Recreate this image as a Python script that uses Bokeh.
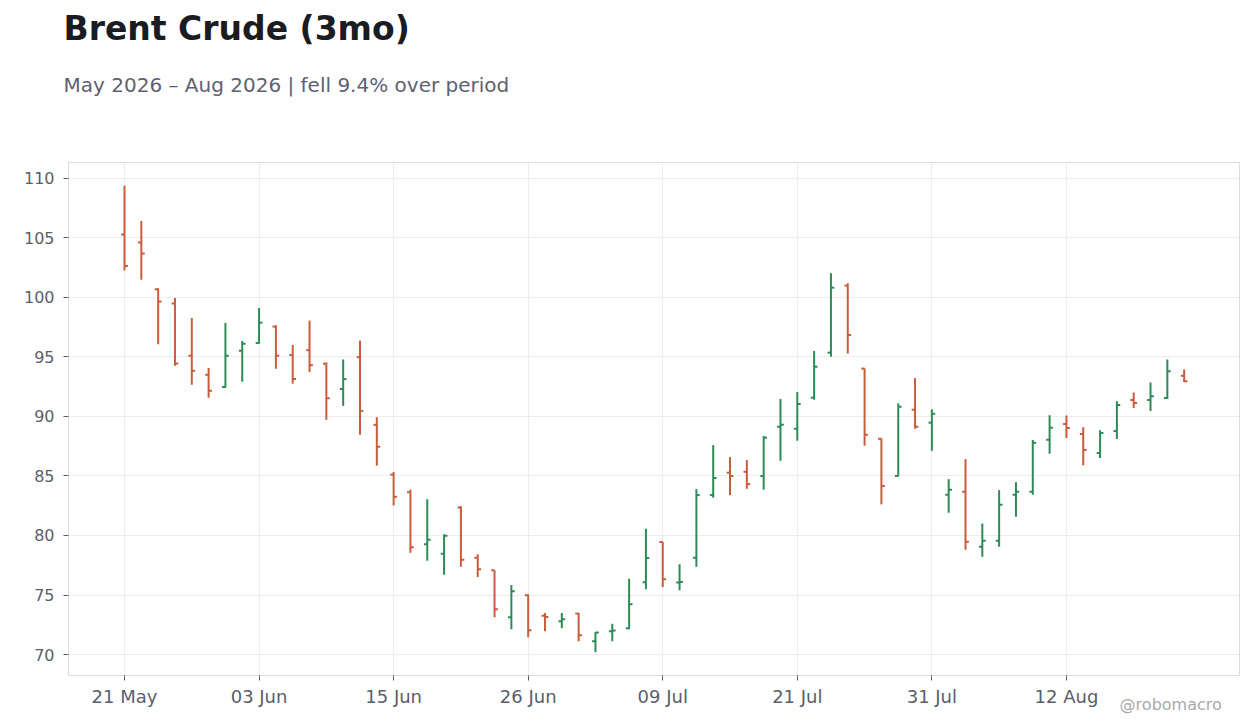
import numpy as np
from bokeh.plotting import figure
from bokeh.models import ColumnDataSource, Range1d, FixedTicker, Title, LinearAxis
from bokeh.embed import file_html
from bokeh.resources import INLINE

# daily OHLC, one bar per trading day (index based x axis)
opens = [105.27, 104.59, 100.67, 99.47, 95.10, 93.50, 92.46, 95.52, 96.16, 97.54,
         95.16, 95.56, 94.42, 92.30, 94.97, 89.29, 85.11, 83.63, 79.27, 78.46,
         82.35, 78.12, 77.09, 73.14, 74.99, 73.25, 72.80, 73.45, 71.12, 71.96,
         72.21, 76.08, 79.45, 76.05, 78.12, 83.39, 85.27, 85.35, 84.99, 89.13,
         88.96, 91.57, 95.35, 100.98, 94.01, 88.12, 84.99, 90.56, 89.47, 83.42,
         83.67, 79.05, 79.55, 83.42, 83.67, 88.03, 89.36, 88.52, 86.93, 88.77,
         91.37, 91.37, 91.54, 93.41]
highs = [109.36, 106.41, 100.76, 99.94, 98.26, 94.06, 97.84, 96.33, 99.10, 97.65,
         96.00, 98.04, 94.53, 94.78, 96.36, 89.93, 85.33, 83.85, 83.04, 80.11,
         82.46, 78.42, 77.09, 75.85, 75.07, 73.50, 73.50, 73.50, 71.90, 72.58,
         76.36, 80.56, 79.46, 77.59, 83.89, 87.59, 86.58, 86.33, 88.35, 91.46,
         92.04, 95.49, 102.02, 101.18, 94.03, 88.15, 91.09, 93.22, 90.59, 84.73,
         86.41, 81.01, 83.81, 84.48, 88.01, 90.10, 90.08, 89.08, 88.83, 91.26,
         92.01, 92.85, 94.78, 93.94]
lows = [102.24, 101.48, 96.05, 94.26, 92.66, 91.57, 92.40, 92.91, 96.10, 94.00,
        92.75, 93.72, 89.71, 90.88, 88.45, 85.86, 82.52, 78.55, 77.88, 76.70,
        77.37, 76.52, 73.14, 72.13, 71.46, 71.96, 72.21, 71.12, 70.20, 71.12,
        72.13, 75.49, 75.68, 75.41, 77.37, 83.17, 83.39, 83.92, 83.84, 86.27,
        87.96, 91.40, 95.01, 95.27, 87.54, 82.61, 84.96, 88.96, 87.11, 81.90,
        78.80, 78.21, 79.05, 81.57, 83.42, 86.86, 88.18, 85.89, 86.51, 88.10,
        90.70, 90.45, 91.45, 92.88]
closes = [102.63, 103.67, 99.64, 94.43, 93.84, 92.16, 95.10, 96.10, 97.87, 95.10,
          93.14, 94.30, 91.52, 93.13, 90.46, 87.45, 83.25, 79.02, 79.64, 79.97,
          77.96, 77.16, 73.81, 75.32, 72.04, 73.15, 72.97, 71.62, 71.85, 72.02,
          74.23, 78.10, 76.33, 76.10, 83.39, 84.82, 84.99, 84.31, 88.21, 89.30,
          91.04, 94.17, 100.81, 96.83, 88.46, 84.15, 90.81, 89.13, 90.22, 83.84,
          79.47, 79.55, 82.58, 83.67, 87.79, 89.04, 89.02, 87.18, 88.60, 90.95,
          91.12, 91.70, 93.80, 92.96]

tick_idx = [0, 8, 16, 24, 32, 40, 48, 56]
tick_labels = ["21 May", "03 Jun", "15 Jun", "26 Jun", "09 Jul", "21 Jul", "31 Jul", "12 Aug"]

UP = "#2e8b57"
DOWN = "#c95c3d"
FONT = "DejaVu Sans"

x = np.arange(len(opens))
colors = [UP if c >= o else DOWN for o, c in zip(opens, closes)]
src = ColumnDataSource(data=dict(
    x=x, xl=x - 0.2, xr=x + 0.2,
    open=opens, high=highs, low=lows, close=closes, color=colors,
))

span = max(highs) - min(lows)
p = figure(
    width=1252, height=720,
    x_range=Range1d(-3.33, 66.29),
    y_range=Range1d(min(lows) - 0.05 * span, max(highs) + 0.05 * span),
    output_backend="svg", toolbar_location=None,
    min_border_left=68, min_border_right=13, min_border_bottom=45, min_border_top=162,
)

sub = Title(text="May 2026 \u2013 Aug 2026 | fell 9.4% over period", align="left",
            text_font=FONT, text_font_size="20px", text_font_style="normal",
            text_color="#5f6170", standoff=132, offset=-5)
p.add_layout(sub, "above")
main = Title(text="Brent Crude (3mo)", align="left",
             text_font=FONT, text_font_size="33px", text_font_style="bold",
             text_color="#1b1b22", standoff=-86, offset=-5)
p.add_layout(main, "above")

p.segment(x0="x", y0="low", x1="x", y1="high", source=src, line_color="color", line_width=2)
p.segment(x0="xl", y0="open", x1="x", y1="open", source=src, line_color="color", line_width=2)
p.segment(x0="x", y0="close", x1="xr", y1="close", source=src, line_color="color", line_width=2)

p.xaxis.ticker = FixedTicker(ticks=tick_idx)
p.xaxis.major_label_overrides = {i: lab for i, lab in zip(tick_idx, tick_labels)}
p.yaxis.ticker = FixedTicker(ticks=[70, 75, 80, 85, 90, 95, 100, 105, 110])

for ax in (p.xaxis, p.yaxis):
    ax.axis_line_color = "#dcdce2"
    ax.major_tick_line_color = "#5a5e6a"
    ax.major_tick_in = 0
    ax.major_tick_out = 5
    ax.minor_tick_line_color = None
    ax.major_label_text_font = FONT
    ax.major_label_text_color = "#5a5e6a"
p.xaxis.major_label_text_font_size = "18px"
p.yaxis.major_label_text_font_size = "16px"
p.xaxis.major_label_standoff = 5
p.yaxis.major_label_standoff = 9

p.xgrid.grid_line_color = "#ededed"
p.ygrid.grid_line_color = "#ededed"
p.outline_line_color = "#dcdce2"
p.background_fill_color = "white"
p.border_fill_color = "white"

# watermark: a bare second axis below, pulled up next to the date labels
wm_pos = 62.2
mark = LinearAxis(ticker=FixedTicker(ticks=[wm_pos]),
                  major_label_overrides={wm_pos: "@robomacro"},
                  axis_line_color=None, major_tick_line_color=None,
                  minor_tick_line_color=None, major_label_standoff=-21,
                  major_label_text_font=FONT, major_label_text_font_size="16px",
                  major_label_text_color="#aaaaaa")
p.add_layout(mark, "below")

open("out.html", "w").write(file_html(p, INLINE))
